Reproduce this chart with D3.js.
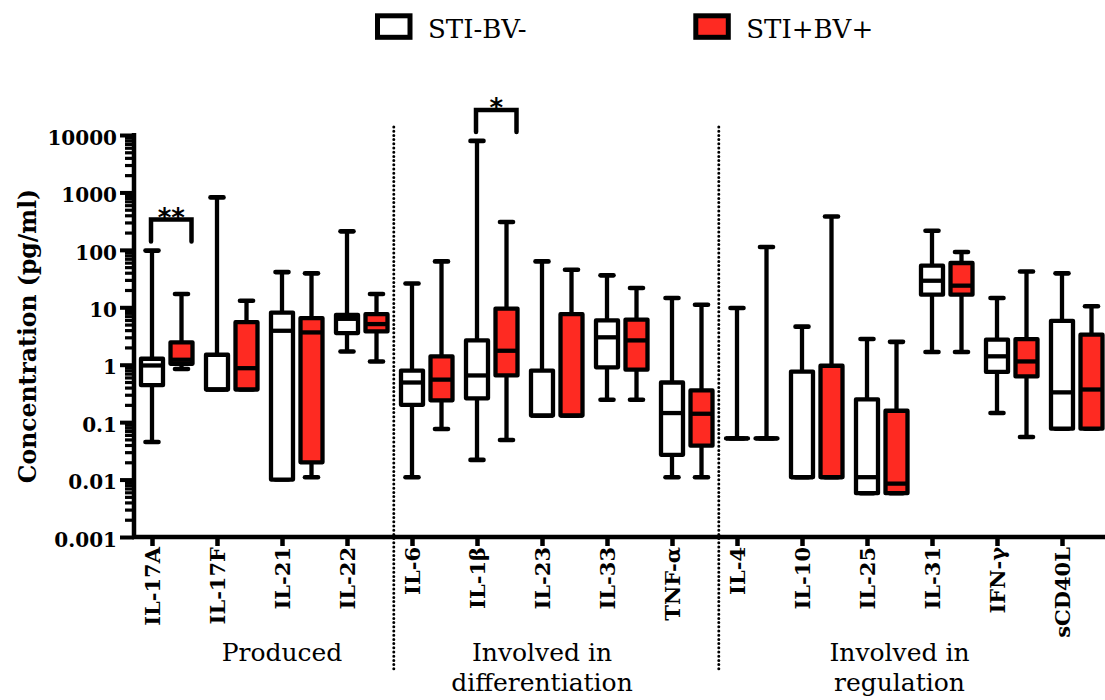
<!DOCTYPE html>
<html>
<head>
<meta charset="utf-8">
<script src="https://cdn.jsdelivr.net/npm/d3@7"></script>
<style>
  html, body { margin: 0; padding: 0; background: #ffffff; }
  svg { display: block; }
</style>
</head>
<body>
<svg id="chart" width="1105" height="700"></svg>
<script>
// ---- data -------------------------------------------------------------
const categories = ["IL-17A", "IL-17F", "IL-21", "IL-22", "IL-6", "IL-1β", "IL-23",
  "IL-33", "TNF-α", "IL-4", "IL-10", "IL-25", "IL-31", "IFN-γ", "sCD40L"];

const seriesNames = ["STI-BV-", "STI+BV+"];

const yTickValues = [10000, 1000, 100, 10, 1, 0.1, 0.01, 0.001];
const yTickLabels = ["10000", "1000", "100", "10", "1", "0.1", "0.01", "0.001"];

// five-number summaries per cytokine: [min, Q1, median, Q3, max] (pg/ml)
const stiNeg = [
  [0.045, 0.44, 0.97, 1.27, 97],
  [0.37, 0.37, 0.37, 1.49, 820],
  [0.01, 0.01, 3.9, 8.1, 41],
  [1.7, 3.56, 6.3, 7.4, 210],
  [0.011, 0.2, 0.49, 0.79, 26],
  [0.022, 0.26, 0.65, 2.65, 7900],
  [0.13, 0.13, 0.13, 0.79, 63],
  [0.246, 0.9, 3.0, 5.9, 36],
  [0.011, 0.027, 0.144, 0.49, 14.5],
  [0.052, 0.052, 0.052, 0.052, 9.7],
  [0.011, 0.011, 0.011, 0.76, 4.6],
  [0.0058, 0.0058, 0.011, 0.25, 2.8],
  [1.66, 16.6, 29, 53, 215],
  [0.144, 0.75, 1.4, 2.73, 14.5],
  [0.077, 0.077, 0.33, 5.8, 39]
];

const stiPos = [
  [0.84, 1.04, 1.22, 2.45, 17],
  [0.37, 0.37, 0.87, 5.5, 13],
  [0.011, 0.02, 3.65, 6.5, 39],
  [1.14, 3.8, 5.1, 7.6, 17],
  [0.076, 0.24, 0.55, 1.4, 63],
  [0.049, 0.65, 1.75, 9.5, 306],
  [0.13, 0.13, 0.13, 7.6, 45],
  [0.246, 0.82, 2.65, 6.1, 21.7],
  [0.011, 0.039, 0.14, 0.357, 11.1],
  [0.052, 0.052, 0.052, 0.052, 112],
  [0.011, 0.011, 0.011, 0.96, 380],
  [0.0058, 0.0058, 0.0085, 0.158, 2.5],
  [1.66, 16.6, 23.8, 59, 92],
  [0.055, 0.625, 1.14, 2.8, 42],
  [0.077, 0.077, 0.37, 3.33, 10.4]
];

const groupNames = [["Produced"], ["Involved in", "differentiation"], ["Involved in", "regulation"]];
const groupLabelSpan = [["IL-17F", "IL-22"], ["IL-6", "TNF-α"], ["IL-4", "sCD40L"]];
const groupEnds = ["IL-22", "TNF-α"];

const sigCategories = ["IL-17A", "IL-1β"];
const sigLabels = ["**", "*"];

// ---- layout -----------------------------------------------------------
const W = 1105, H = 700;
const svg = d3.select("#chart");
svg.append("rect").attr("width", W).attr("height", H).attr("fill", "#ffffff");

const x = d3.scalePoint().domain(categories).range([152, 1062]);
const y = d3.scaleLog().domain([0.001, 10000]).range([537, 135]);

const fills = ["#ffffff", "#fe2a22"];
const boxW = 22;
const shift = [0, 29.5];
const stroke = 4.3;
const AX = 134;           // y-axis position
const AY = y(0.001);      // x-axis position
const boldSerif = "'DejaVu Serif', serif";

// ---- group separators (dotted) ----------------------------------------
groupEnds.forEach(c => {
  const i = categories.indexOf(c);
  const xs = x(c) + (x(categories[i + 1]) - x(c)) * 0.72;
  svg.append("line")
    .attr("x1", xs).attr("x2", xs)
    .attr("y1", y(10000) - 8).attr("y2", 672)
    .attr("stroke", "#000").attr("stroke-width", 3)
    .attr("stroke-linecap", "round")
    .attr("stroke-dasharray", "0,4.2");
});

// ---- y axis -----------------------------------------------------------
const minor = [];
for (let k = -3; k < 4; k++) for (let m = 2; m <= 9; m++) minor.push(m * Math.pow(10, k));

const yMinor = svg.append("g").attr("transform", `translate(${AX},0)`)
  .call(d3.axisLeft(y).tickValues(minor).tickSize(9).tickSizeOuter(0).tickFormat(() => ""));
yMinor.select(".domain").remove();
yMinor.selectAll(".tick line").attr("stroke-width", 3.2);

const yAxis = svg.append("g").attr("transform", `translate(${AX},0)`)
  .call(d3.axisLeft(y).tickValues(yTickValues).tickSize(14).tickSizeOuter(0).tickPadding(3)
    .tickFormat((d, i) => yTickLabels[i]));
yAxis.select(".domain").remove();
yAxis.selectAll(".tick line").attr("stroke-width", 4);
yAxis.selectAll("text")
  .attr("font-family", boldSerif).attr("font-weight", "bold")
  .attr("font-size", 20).attr("fill", "#000").attr("dy", "0.46em");

svg.append("line")
  .attr("x1", AX).attr("x2", AX)
  .attr("y1", y(10000) - 2).attr("y2", AY + 2)
  .attr("stroke", "#000").attr("stroke-width", 4.5);

// ---- x axis -----------------------------------------------------------
const xAxis = svg.append("g").attr("transform", `translate(0,${AY})`)
  .call(d3.axisBottom(x).tickSize(9).tickSizeOuter(0));
xAxis.select(".domain").remove();
xAxis.selectAll(".tick line").attr("stroke-width", 4.5);
xAxis.selectAll("text")
  .attr("font-family", boldSerif).attr("font-weight", "bold")
  .attr("font-size", 21).attr("fill", "#000")
  .attr("transform", "rotate(-90)")
  .attr("text-anchor", "end")
  .attr("x", -10).attr("y", 0).attr("dy", "0.36em");

svg.append("line")
  .attr("x1", AX - 2).attr("x2", W)
  .attr("y1", AY).attr("y2", AY)
  .attr("stroke", "#000").attr("stroke-width", 4.5);

// ---- y axis title -----------------------------------------------------
svg.append("text")
  .attr("transform", `translate(36,${(y(10000) + AY) / 2}) rotate(-90)`)
  .attr("text-anchor", "middle")
  .attr("font-family", boldSerif).attr("font-weight", "bold")
  .attr("font-size", 23.5).attr("fill", "#000")
  .text("Concentration (pg/ml)");

// ---- box plots --------------------------------------------------------
[stiNeg, stiPos].forEach((series, s) => {
  const g = svg.append("g").attr("class", "series-" + s);
  series.forEach((st, i) => {
    const cx = x(categories[i]) + shift[s];
    const [mn, q1, md, q3, mx] = st;
    const b = g.append("g");
    // whiskers
    b.append("line").attr("x1", cx).attr("x2", cx).attr("y1", y(q3)).attr("y2", y(mx))
      .attr("stroke", "#000").attr("stroke-width", stroke);
    b.append("line").attr("x1", cx).attr("x2", cx).attr("y1", y(q1)).attr("y2", y(mn))
      .attr("stroke", "#000").attr("stroke-width", stroke);
    // caps
    [mn, mx].forEach(v => {
      b.append("line").attr("x1", cx - 6.5).attr("x2", cx + 6.5)
        .attr("y1", y(v)).attr("y2", y(v))
        .attr("stroke", "#000").attr("stroke-width", 4.6).attr("stroke-linecap", "round");
    });
    // box (path so a collapsed box still draws as a bar)
    const x0 = cx - boxW / 2, x1 = cx + boxW / 2;
    b.append("path")
      .attr("d", `M${x0},${y(q3)}H${x1}V${y(q1)}H${x0}Z`)
      .attr("fill", fills[s]).attr("stroke", "#000")
      .attr("stroke-width", stroke).attr("stroke-linejoin", "round");
    // median
    b.append("line").attr("x1", x0).attr("x2", x1).attr("y1", y(md)).attr("y2", y(md))
      .attr("stroke", "#000").attr("stroke-width", stroke);
  });
});

// ---- significance brackets --------------------------------------------
sigCategories.forEach((c, k) => {
  const i = categories.indexOf(c);
  const top = Math.max(stiNeg[i][4], stiPos[i][4]);
  const legEnd = y(top) - 9;
  const barY = legEnd - 22;
  const xl = x(c) - 1, xr = x(c) + shift[1] + 10;
  svg.append("path")
    .attr("d", `M${xl},${legEnd}V${barY}H${xr}V${legEnd}`)
    .attr("fill", "none").attr("stroke", "#000").attr("stroke-width", 4.5)
    .attr("stroke-linecap", "round").attr("stroke-linejoin", "miter");
  svg.append("text")
    .attr("x", (xl + xr) / 2).attr("y", barY + 7)
    .attr("text-anchor", "middle")
    .attr("font-family", "'DejaVu Sans', sans-serif")
    .attr("font-weight", "bold")
    .attr("font-size", 26).attr("fill", "#000")
    .text(sigLabels[k]);
});

// ---- group labels -----------------------------------------------------
groupNames.forEach((lines, gi) => {
  const [a, b] = groupLabelSpan[gi];
  const cx = (x(a) + x(b)) / 2;
  lines.forEach((t, li) => {
    svg.append("text")
      .attr("x", cx).attr("y", 661 + li * 30)
      .attr("text-anchor", "middle")
      .attr("font-family", "'DejaVu Serif', serif")
      .attr("font-size", 25).attr("fill", "#000")
      .text(t);
  });
});

// ---- legend -----------------------------------------------------------
const legendX = [377.5, 695.8];
seriesNames.forEach((name, s) => {
  const lg = svg.append("g").attr("transform", `translate(${legendX[s]},15.8)`);
  lg.append("rect").attr("width", 32.5).attr("height", 21.5)
    .attr("fill", fills[s]).attr("stroke", "#000").attr("stroke-width", 5);
  lg.append("text").attr("x", 50.5).attr("y", 22.5)
    .attr("font-family", "'DejaVu Serif', serif")
    .attr("font-size", 26).attr("fill", "#000")
    .text(name);
});
</script>
</body>
</html>
